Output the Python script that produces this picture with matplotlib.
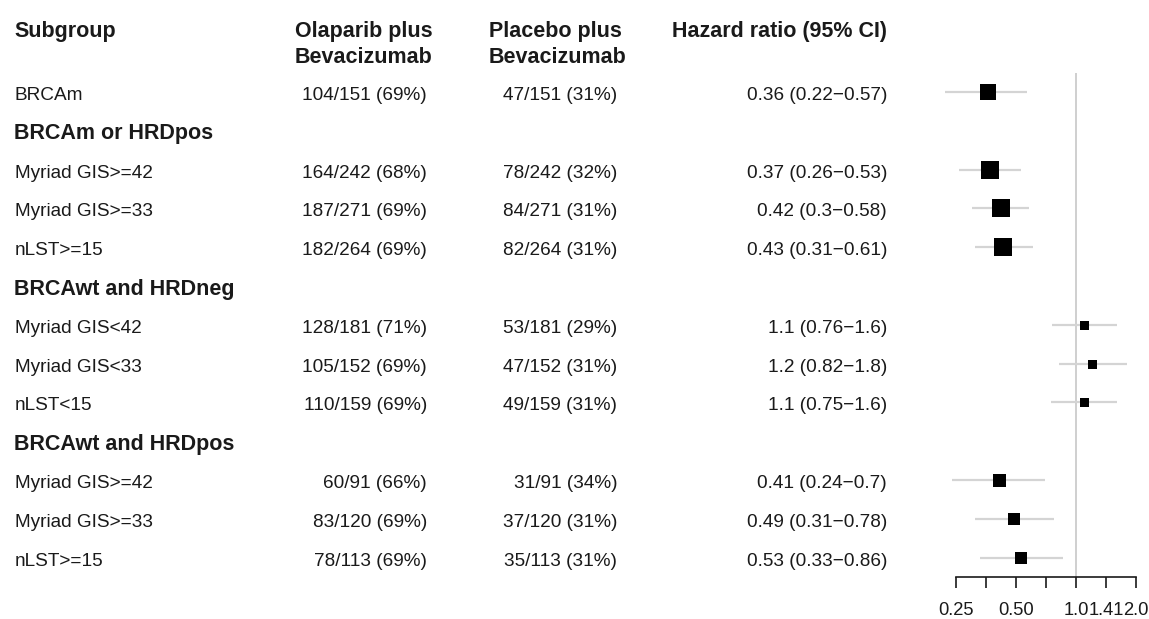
import numpy as np
import matplotlib.pyplot as plt
from matplotlib.ticker import NullLocator
from matplotlib.transforms import blended_transform_factory

plt.rcParams['font.family'] = ['Liberation Sans', 'DejaVu Sans']

# data (None = section header row)
subgroups = ["BRCAm", "BRCAm or HRDpos", "Myriad GIS>=42", "Myriad GIS>=33", "nLST>=15",
             "BRCAwt and HRDneg", "Myriad GIS<42", "Myriad GIS<33", "nLST<15",
             "BRCAwt and HRDpos", "Myriad GIS>=42", "Myriad GIS>=33", "nLST>=15"]
ola_events = [104, None, 164, 187, 182, None, 128, 105, 110, None, 60, 83, 78]
pla_events = [47, None, 78, 84, 82, None, 53, 47, 49, None, 31, 37, 35]
totals = [151, None, 242, 271, 264, None, 181, 152, 159, None, 91, 120, 113]
hr = [0.36, None, 0.37, 0.42, 0.43, None, 1.1, 1.2, 1.1, None, 0.41, 0.49, 0.53]
hr_lo = [0.22, None, 0.26, 0.30, 0.31, None, 0.76, 0.82, 0.75, None, 0.24, 0.31, 0.33]
hr_hi = [0.57, None, 0.53, 0.58, 0.61, None, 1.6, 1.8, 1.6, None, 0.70, 0.78, 0.86]
box_weight = [15.7, None, 17.7, 17.7, 17.7, None, 9, 9, 9, None, 13, 12.3, 12.3]

tick_vals = 2.0 ** np.arange(-2, 1.01, 0.5)
tick_labels = ["0.25", "", "0.50", "", "1.0", "1.41", "2.0"]

W, H = 1149, 619
fig = plt.figure(figsize=(W / 100, H / 100), dpi=100)

# layout in pixels
row0_px, row_step = 92, 38.8
ax_left_px = 930
one_px, per_double = 1076, 60
axis_px = 577
ref_top_px = 73

txt = "#1a1a1a"
fs_reg, fs_bold = 13.7, 15.5

ax = fig.add_axes([ax_left_px / W, 0, 1 - ax_left_px / W, 1])
ax.set_xscale('log', base=2)
ax.set_xlim(2 ** ((ax_left_px - one_px) / per_double), 2 ** ((W - one_px) / per_double))
ax.set_ylim((H - row0_px) / row_step, -row0_px / row_step)
ax.patch.set_alpha(0)

axis_row = (axis_px - row0_px) / row_step
ax.vlines(1, (ref_top_px - row0_px) / row_step, axis_row, color="#cccccc", lw=1.3, zorder=1)

tr = blended_transform_factory(fig.transFigure, ax.transData)
off_reg = 8 / row_step     # baseline offset below row centre
off_bold = 8.5 / row_step

# header
h1 = (36.5 - row0_px) / row_step
h2 = (63 - row0_px) / row_step
hdr = dict(transform=tr, fontsize=fs_bold, fontweight='bold', color=txt, va='baseline')
fig.text(14 / W, h1, "Subgroup", **hdr)
fig.text(295 / W, h1, "Olaparib plus", **hdr)
fig.text(295 / W, h2, "Bevacizumab", **hdr)
fig.text(489 / W, h1, "Placebo plus", **hdr)
fig.text(489 / W, h2, "Bevacizumab", **hdr)
fig.text(672 / W, h1, "Hazard ratio (95% CI)", **hdr)

reg = dict(transform=tr, fontsize=fs_reg, color=txt, va='baseline')
for i, name in enumerate(subgroups):
    if hr[i] is None:
        fig.text(14 / W, i + off_bold, name, **hdr)
        continue
    y = i + off_reg
    fig.text(15 / W, y, name, **reg)
    n = totals[i]
    fig.text(427 / W, y, f"{ola_events[i]}/{n} ({round(100 * ola_events[i] / n)}%)", ha='right', **reg)
    fig.text(617 / W, y, f"{pla_events[i]}/{n} ({round(100 * pla_events[i] / n)}%)", ha='right', **reg)
    fig.text(887 / W, y, f"{hr[i]:.2g} ({hr_lo[i]:.2g}\u2212{hr_hi[i]:.2g})", ha='right', **reg)
    ax.plot([hr_lo[i], hr_hi[i]], [i, i], color="#d4d4d4", lw=1.6, solid_capstyle='butt', zorder=2)
    ax.plot(hr[i], i, marker='s', color='black', markersize=box_weight[i] * 0.72, mew=0, zorder=3)

# x axis
for s in ['top', 'right', 'left']:
    ax.spines[s].set_visible(False)
ax.spines['bottom'].set_position(('data', axis_row))
ax.spines['bottom'].set_bounds(tick_vals[0], tick_vals[-1])
ax.spines['bottom'].set_linewidth(1.2)
ax.spines['bottom'].set_color(txt)
ax.set_xticks(tick_vals)
ax.set_xticklabels(tick_labels)
ax.xaxis.set_minor_locator(NullLocator())
ax.tick_params(axis='x', direction='out', length=8, width=1.2, color=txt,
               labelsize=13.2, labelcolor=txt, pad=10)
ax.set_yticks([])

fig.savefig("out.png", dpi=100)
